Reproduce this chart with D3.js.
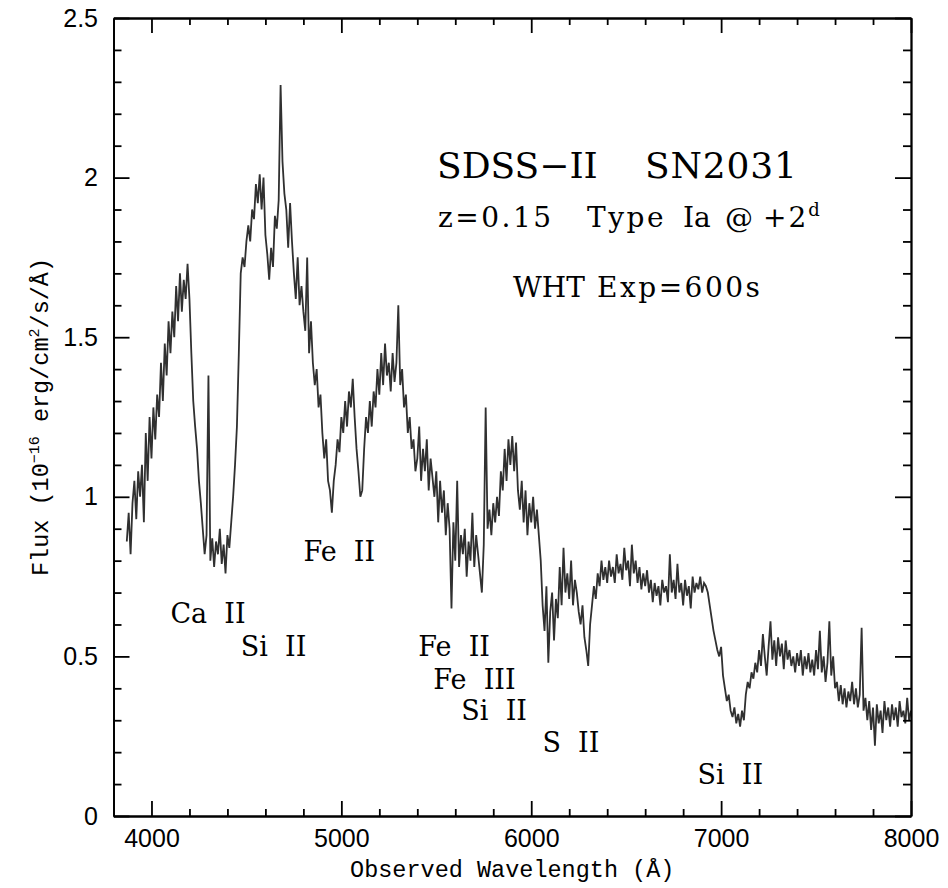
<!DOCTYPE html>
<html>
<head>
<meta charset="utf-8">
<script src="https://cdn.jsdelivr.net/npm/d3@7"></script>
<style>
  html, body { margin: 0; padding: 0; background: #fff; }
  .axis path, .axis line { stroke: #000; stroke-width: 1.8; }
  .axis text { font-family: "Liberation Sans", Arial, sans-serif; font-size: 25px; fill: #000; }
  .label { font-family: "Liberation Mono", "Courier New", monospace; font-size: 23.5px; fill: #000; }
  .note { font-family: "DejaVu Serif", serif; fill: #000; white-space: pre; }
</style>
</head>
<body>
<svg id="chart" width="948" height="888"></svg>
<script>
// spectrum, 10 A steps from waveStart
var waveStart = 3870, waveStep = 10;
var flux = [
  0.86, 0.95, 0.82, 0.98,                                          // 3870-3900
  1.05, 0.93, 1.08, 1.00, 1.10, 0.92, 1.20, 1.05, 1.25, 1.12,      // 3910-4000
  1.28, 1.18, 1.32, 1.25, 1.42, 1.30, 1.48, 1.38, 1.55, 1.45,
  1.58, 1.50, 1.66, 1.55, 1.70, 1.58, 1.68, 1.62, 1.73, 1.62,
  1.45, 1.30, 1.22, 1.15, 1.05, 0.98, 0.90, 0.82, 0.88, 1.38,
  0.80, 0.87, 0.78, 0.86, 0.82, 0.90, 0.79, 0.85, 0.76, 0.88,
  0.84, 0.92, 1.00, 1.10, 1.22, 1.45, 1.70, 1.75, 1.72, 1.80,      // 4410-4500
  1.85, 1.80, 1.90, 1.87, 1.98, 1.92, 2.01, 1.90, 2.00, 1.82,
  1.76, 1.68, 1.78, 1.72, 1.88, 1.84, 1.93, 2.29, 2.05, 1.95,
  1.90, 1.78, 1.92, 1.80, 1.70, 1.62, 1.75, 1.60, 1.66, 1.58,
  1.52, 1.75, 1.45, 1.55, 1.42, 1.35, 1.40, 1.28, 1.32, 1.20,
  1.12, 1.18, 1.05, 1.02, 0.95, 1.05, 1.10, 1.18, 1.14, 1.25,      // 4910-5000
  1.20, 1.30, 1.22, 1.33, 1.28, 1.37, 1.25, 1.15, 1.08, 1.00,
  1.02, 1.15, 1.25, 1.20, 1.30, 1.22, 1.33, 1.28, 1.40, 1.32,
  1.45, 1.35, 1.48, 1.38, 1.42, 1.33, 1.45, 1.36, 1.42, 1.60,
  1.35, 1.40, 1.28, 1.32, 1.20, 1.25, 1.15, 1.18, 1.08, 1.12,
  1.22, 1.05, 1.15, 1.08, 1.18, 1.02, 1.12, 1.06, 1.00, 1.08,      // 5410-5500
  0.92, 1.05, 0.95, 1.02, 0.88, 0.98, 0.90, 0.65, 0.92, 0.80,
  1.05, 0.78, 0.88, 0.82, 0.90, 0.75, 0.86, 0.80, 0.95, 0.78,
  0.88, 0.82, 0.76, 0.70, 0.85, 1.28, 0.90, 0.96, 0.88, 0.98,
  0.92, 1.00, 0.94, 1.08, 1.02, 1.15, 1.05, 1.18, 1.10, 1.19,
  1.08, 1.17, 1.02, 0.96, 1.05, 0.92, 1.02, 0.88, 0.98, 0.92,      // 5910-6000
  1.00, 0.90, 0.96, 0.88, 0.80, 0.66, 0.58, 0.72, 0.48, 0.64,
  0.70, 0.55, 0.68, 0.62, 0.78, 0.66, 0.84, 0.70, 0.76, 0.68,
  0.80, 0.66, 0.74, 0.70, 0.64, 0.60, 0.66, 0.56, 0.52, 0.47,
  0.60, 0.66, 0.72, 0.68, 0.76, 0.72, 0.80, 0.74, 0.78, 0.73,
  0.80, 0.75, 0.78, 0.73, 0.82, 0.76, 0.79, 0.74, 0.84, 0.77,      // 6410-6500
  0.80, 0.72, 0.85, 0.76, 0.80, 0.73, 0.78, 0.71, 0.76, 0.72,
  0.77, 0.70, 0.74, 0.67, 0.73, 0.69, 0.72, 0.66, 0.74, 0.70,
  0.72, 0.67, 0.82, 0.70, 0.74, 0.68, 0.79, 0.70, 0.73, 0.66,
  0.74, 0.69, 0.72, 0.65, 0.75, 0.70, 0.73, 0.71, 0.75, 0.70,
  0.73, 0.72, 0.70, 0.66, 0.62, 0.58, 0.55, 0.52, 0.50, 0.53,      // 6910-7000
  0.44, 0.40, 0.36, 0.38, 0.33, 0.31, 0.34, 0.29, 0.32, 0.28,
  0.33, 0.30, 0.38, 0.42, 0.40, 0.45, 0.43, 0.48, 0.45, 0.52,
  0.47, 0.57, 0.50, 0.44, 0.53, 0.61, 0.49, 0.55, 0.47, 0.56,
  0.50, 0.54, 0.46, 0.55, 0.49, 0.52, 0.47, 0.50, 0.45, 0.51,
  0.47, 0.52, 0.44, 0.50, 0.46, 0.51, 0.45, 0.49, 0.44, 0.52,      // 7410-7500
  0.46, 0.58, 0.45, 0.50, 0.42, 0.48, 0.61, 0.44, 0.50, 0.40,
  0.42, 0.36, 0.41, 0.35, 0.40, 0.34, 0.39, 0.36, 0.42, 0.35,
  0.40, 0.34, 0.38, 0.59, 0.33, 0.37, 0.30, 0.36, 0.27, 0.34,
  0.22, 0.35, 0.29, 0.33, 0.26, 0.36, 0.30, 0.34, 0.28, 0.35,
  0.30, 0.34, 0.28, 0.36, 0.31, 0.33, 0.29, 0.37, 0.30, 0.33       // 7910-8000
];

var xMajorTicks = [4000, 5000, 6000, 7000, 8000];
var xMinorTicks = [4200, 4400, 4600, 4800, 5200, 5400, 5600, 5800, 6200, 6400, 6600, 6800, 7200, 7400, 7600, 7800];
var yMajorTicks = [0, 0.5, 1, 1.5, 2, 2.5];
var yTickLabels = ["0", "0.5", "1", "1.5", "2", "2.5"];
var yMinorTicks = [0.1, 0.2, 0.3, 0.4, 0.6, 0.7, 0.8, 0.9, 1.1, 1.2, 1.3, 1.4, 1.6, 1.7, 1.8, 1.9, 2.1, 2.2, 2.3, 2.4];

// line identifications, anchored in data units (wavelength, flux)
var lineNames = ["Fe  II", "Ca  II", "Si  II", "Fe  II", "Fe  III", "Si  II", "S  II", "Si  II"];
var lineWave  = [4800, 4100, 4470, 5405, 5484, 5632, 6059, 6876];
var lineFlux  = [0.80, 0.605, 0.50, 0.50, 0.398, 0.30, 0.20, 0.10];

var W = 948, H = 888;
var margin = {top: 18, right: 37, bottom: 72, left: 113.5};

var svg = d3.select("#chart");

var x = d3.scaleLinear().domain([3800, 8000]).range([margin.left, W - margin.right]);
var y = d3.scaleLinear().domain([0, 2.5]).range([H - margin.bottom, margin.top]);

var data = flux.map(function(f, i){ return {w: waveStart + i * waveStep, f: f}; });

// spectrum
var line = d3.line()
  .x(function(d){ return x(d.w); })
  .y(function(d){ return y(d.f); });

svg.append("path")
  .datum(data)
  .attr("fill", "none")
  .attr("stroke", "#303030")
  .attr("stroke-width", 1.8)
  .attr("stroke-linejoin", "miter")
  .attr("d", line);

// axes, ticks on all four sides pointing inward
function addAxis(axis, tx, ty, vals, size, fmt){
  var g = svg.append("g")
    .attr("class", "axis")
    .attr("transform", "translate(" + tx + "," + ty + ")")
    .call(axis.tickValues(vals).tickSize(-size).tickSizeOuter(0).tickFormat(fmt));
  return g;
}
var noLabel = function(){ return ""; };

addAxis(d3.axisBottom(x).tickPadding(13), 0, y(0), xMajorTicks, 15, d3.format("d"));
addAxis(d3.axisBottom(x), 0, y(0), xMinorTicks, 7, noLabel);
addAxis(d3.axisTop(x), 0, y(2.5), xMajorTicks, 15, noLabel);
addAxis(d3.axisTop(x), 0, y(2.5), xMinorTicks, 7, noLabel);
addAxis(d3.axisLeft(y).tickPadding(15.5), x(3800), 0, yMajorTicks, 16, function(d, i){ return yTickLabels[i]; });
addAxis(d3.axisLeft(y), x(3800), 0, yMinorTicks, 8, noLabel);
addAxis(d3.axisRight(y), x(8000), 0, yMajorTicks, 16, noLabel);
addAxis(d3.axisRight(y), x(8000), 0, yMinorTicks, 8, noLabel);

// axis titles
svg.append("text")
  .attr("class", "label")
  .attr("x", (x(3800) + x(8000)) / 2)
  .attr("y", 877)
  .attr("text-anchor", "middle")
  .text("Observed Wavelength (Å)");

var yl = svg.append("text")
  .attr("class", "label")
  .attr("text-anchor", "middle")
  .attr("transform", "translate(48," + ((y(0) + y(2.5)) / 2) + ") rotate(-90)");
yl.append("tspan").text("Flux (10");
yl.append("tspan").attr("dy", -9).style("font-size", "15px").text("−16");
yl.append("tspan").attr("dy", 9).text(" erg/cm");
yl.append("tspan").attr("dy", -9).style("font-size", "15px").text("2");
yl.append("tspan").attr("dy", 9).text("/s/Å)");

// title block
var t1 = svg.append("text").attr("class", "note").attr("y", 178).style("font-size", "36px");
t1.append("tspan").attr("x", 437).text("SDSS−II");
t1.append("tspan").attr("x", 645).attr("textLength", 152).text("SN2031");

var t2 = svg.append("text").attr("class", "note").attr("y", 227).style("font-size", "28px");
t2.append("tspan").attr("x", 438).style("letter-spacing", "2.5px").text("z=0.15");
t2.append("tspan").attr("x", 587).style("letter-spacing", "2.5px").text("Type");
t2.append("tspan").attr("x", 683).text("Ia");
t2.append("tspan").attr("x", 725).text("@");
t2.append("tspan").attr("x", 763).style("letter-spacing", "2px").text("+2");
t2.append("tspan").attr("dy", -11).style("font-size", "18px").text("d");

var t3 = svg.append("text").attr("class", "note").attr("y", 297).style("font-size", "28px");
t3.append("tspan").attr("x", 513).text("WHT");
t3.append("tspan").attr("x", 597).style("letter-spacing", "2.5px").text("Exp=600s");

// ion labels
svg.selectAll(".ion")
  .data(lineNames)
  .enter()
  .append("text")
  .attr("class", "note ion")
  .attr("x", function(d, i){ return x(lineWave[i]); })
  .attr("y", function(d, i){ return y(lineFlux[i]); })
  .style("font-size", "27px")
  .text(function(d){ return d; });
</script>
</body>
</html>
